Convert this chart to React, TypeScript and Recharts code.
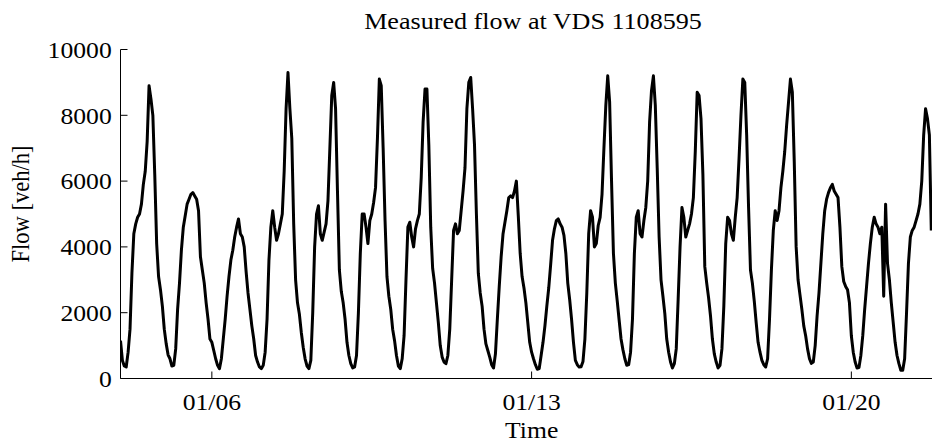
import React from 'react';
import { LineChart, Line, XAxis, YAxis } from 'recharts';

// Hourly flow [veh/h], one array per day (index = hour of day)
const jan04 = [1150, 550, 380, 350, 800, 1500, 3200, 4400, 4700, 4900, 5000, 5300, 5900, 6300, 7200, 8900, 8500, 8000, 6200, 4100, 3100, 2700, 2200, 1500];
const jan05 = [1060, 720, 600, 380, 400, 900, 2100, 2900, 3900, 4600, 4950, 5300, 5450, 5600, 5650, 5550, 5450, 5100, 3700, 3300, 2900, 2300, 1800, 1200];
const jan06 = [1100, 850, 600, 400, 300, 600, 1200, 1800, 2500, 3100, 3600, 3900, 4300, 4600, 4850, 4400, 4300, 4000, 3250, 2600, 2100, 1600, 1200, 700];
const jan07 = [500, 350, 300, 400, 800, 1800, 3600, 4600, 5100, 4600, 4200, 4400, 4700, 5000, 6300, 8200, 9300, 8200, 7300, 4700, 3000, 2300, 1950, 1400];
const jan08 = [950, 600, 380, 300, 550, 2000, 4000, 5000, 5250, 4400, 4200, 4450, 4700, 5400, 7000, 8600, 9000, 8200, 5700, 3300, 2650, 2300, 1800, 1100];
const jan09 = [700, 450, 320, 350, 700, 2000, 3800, 5000, 5000, 4600, 4100, 4800, 5000, 5350, 5800, 7300, 9100, 8900, 7000, 4800, 3100, 2500, 2100, 1500];
const jan10 = [1150, 700, 380, 300, 600, 1300, 3000, 4600, 4750, 4300, 4000, 4550, 4800, 5000, 6100, 7800, 8800, 8800, 7100, 4600, 3350, 2900, 2300, 1700];
const jan11 = [1000, 650, 500, 450, 700, 1500, 3000, 4500, 4700, 4400, 4500, 5100, 5700, 6400, 8200, 9000, 9150, 8200, 7100, 5000, 3200, 2600, 2200, 1500];
const jan12 = [1050, 850, 650, 420, 320, 750, 1800, 2800, 3700, 4400, 4750, 5100, 5500, 5550, 5500, 5700, 6000, 4950, 3800, 3100, 2750, 2300, 1700, 1100];
const jan13 = [800, 600, 420, 280, 300, 700, 1100, 1600, 2200, 2750, 3450, 4200, 4550, 4800, 4850, 4700, 4600, 4350, 3800, 2900, 2400, 1800, 1100, 550];
const jan14 = [420, 350, 360, 520, 1200, 2600, 4400, 5100, 4900, 4000, 4100, 4650, 4900, 5600, 7000, 8300, 9200, 8400, 6000, 3800, 2900, 2350, 1770, 1200];
const jan15 = [870, 600, 400, 420, 800, 1800, 3800, 4900, 5100, 4400, 4300, 4800, 5200, 6000, 7800, 8750, 9200, 8300, 6400, 4300, 3000, 2500, 1970, 1200];
const jan16 = [800, 500, 320, 450, 900, 2400, 4000, 5200, 4900, 4300, 4500, 4700, 5000, 5500, 6900, 8700, 8600, 7900, 6200, 3400, 2900, 2450, 1900, 1200];
const jan17 = [750, 500, 320, 400, 900, 2200, 4100, 4900, 4800, 4400, 4200, 4900, 5500, 6700, 8000, 9100, 9000, 7400, 5200, 3300, 2900, 2350, 1700, 1100];
const jan18 = [800, 550, 420, 350, 600, 1800, 3300, 4500, 5100, 4800, 5100, 5800, 6300, 6900, 7700, 8400, 9100, 8700, 6600, 4000, 3000, 2550, 2100, 1600];
const jan19 = [1300, 900, 600, 460, 500, 1000, 1900, 2600, 3500, 4400, 5100, 5450, 5650, 5800, 5900, 5700, 5600, 5500, 4600, 3400, 2950, 2800, 2700, 2300];
const jan20 = [1300, 800, 500, 320, 330, 700, 1300, 2100, 2800, 3500, 4100, 4600, 4900, 4700, 4600, 4400, 4600, 2500, 5300, 3500, 3000, 2300, 1700, 1100];
const jan21 = [700, 450, 250, 250, 600, 2000, 3500, 4300, 4500, 4600, 4800, 5000, 5300, 6000, 7400, 8200, 7900, 7400, 4500];

const dailyFlow = [jan04, jan05, jan06, jan07, jan08, jan09, jan10, jan11, jan12, jan13, jan14, jan15, jan16, jan17, jan18, jan19, jan20, jan21];

// x axis: hours since 01/04 00:00
const xDomainEnd = 432;
const xTicks = [48, 216, 384];
const xTickLabels = ['01/06', '01/13', '01/20'];
const yTicks = [0, 2000, 4000, 6000, 8000, 10000];

const titleText = 'Measured flow at VDS 1108595';
const xLabelText = 'Time';
const yLabelText = 'Flow [veh/h]';

const data = dailyFlow.flatMap((day, d) => day.map((v, h) => ({ t: d * 24 + h, flow: v })));

const FONT = '"Liberation Serif", "Times New Roman", Times, serif';
const FS = 22.5;
const SX = 1.14;

function XTick(props: any) {
  const { x, y, payload } = props;
  const idx = xTicks.indexOf(payload.value);
  const label = idx >= 0 ? xTickLabels[idx] : String(payload.value);
  return (
    <text
      transform={`translate(${x},${y}) scale(${SX},1)`}
      textAnchor="middle"
      fontFamily={FONT}
      fontSize={FS}
      fill="#000"
      dy={31.5}
    >
      {label}
    </text>
  );
}

function YTick(props: any) {
  const { x, y, payload } = props;
  return (
    <text
      transform={`translate(${x},${y}) scale(${SX},1)`}
      textAnchor="end"
      fontFamily={FONT}
      fontSize={FS}
      fill="#000"
      dy={8.3}
    >
      {String(payload.value)}
    </text>
  );
}

export default function App() {
  const W = 960;
  const H = 441;
  return (
    <div
      style={{
        position: 'fixed',
        left: 0,
        top: 0,
        width: 932,
        height: 441,
        overflow: 'hidden',
        background: '#fff',
      }}
    >
      <LineChart
        width={W}
        height={H}
        data={data}
        margin={{ top: 49.5, right: W - 942.7, bottom: 32.5, left: 0.5 }}
      >
        <XAxis
          dataKey="t"
          type="number"
          domain={[0, xDomainEnd]}
          allowDataOverflow
          ticks={xTicks}
          tick={XTick}
          tickSize={-7}
          tickMargin={7}
          height={30}
          axisLine={{ stroke: '#000', strokeWidth: 1 }}
          tickLine={{ stroke: '#000', strokeWidth: 1 }}
          interval={0}
        />
        <XAxis
          xAxisId="top"
          orientation="top"
          dataKey="t"
          type="number"
          domain={[0, xDomainEnd]}
          allowDataOverflow
          ticks={xTicks}
          tick={false}
          tickSize={-7}
          height={0}
          axisLine={{ stroke: '#000', strokeWidth: 1 }}
          tickLine={{ stroke: '#000', strokeWidth: 1 }}
          interval={0}
        />
        <YAxis
          type="number"
          domain={[0, 10000]}
          allowDataOverflow
          ticks={yTicks}
          tick={YTick}
          tickSize={-7}
          tickMargin={15.8}
          width={120}
          axisLine={{ stroke: '#000', strokeWidth: 1 }}
          tickLine={{ stroke: '#000', strokeWidth: 1 }}
          interval={0}
        />
        <Line
          type="linear"
          dataKey="flow"
          stroke="#000"
          strokeWidth={3}
          strokeLinejoin="round"
          dot={false}
          activeDot={false}
          isAnimationActive={false}
        />
      </LineChart>
      <svg
        width={932}
        height={441}
        style={{ position: 'absolute', left: 0, top: 0, pointerEvents: 'none' }}
      >
        <text
          transform={`translate(533,28.5) scale(1.16,1)`}
          textAnchor="middle"
          fontFamily={FONT}
          fontSize={FS}
          fill="#000"
        >
          {titleText}
        </text>
        <text
          transform={`translate(531.7,437.5) scale(${SX},1)`}
          textAnchor="middle"
          fontFamily={FONT}
          fontSize={FS}
          fill="#000"
        >
          {xLabelText}
        </text>
        <text
          transform={`translate(29,204) scale(${SX},1) rotate(-90)`}
          textAnchor="middle"
          fontFamily={FONT}
          fontSize={FS}
          fill="#000"
        >
          {yLabelText}
        </text>
      </svg>
    </div>
  );
}
